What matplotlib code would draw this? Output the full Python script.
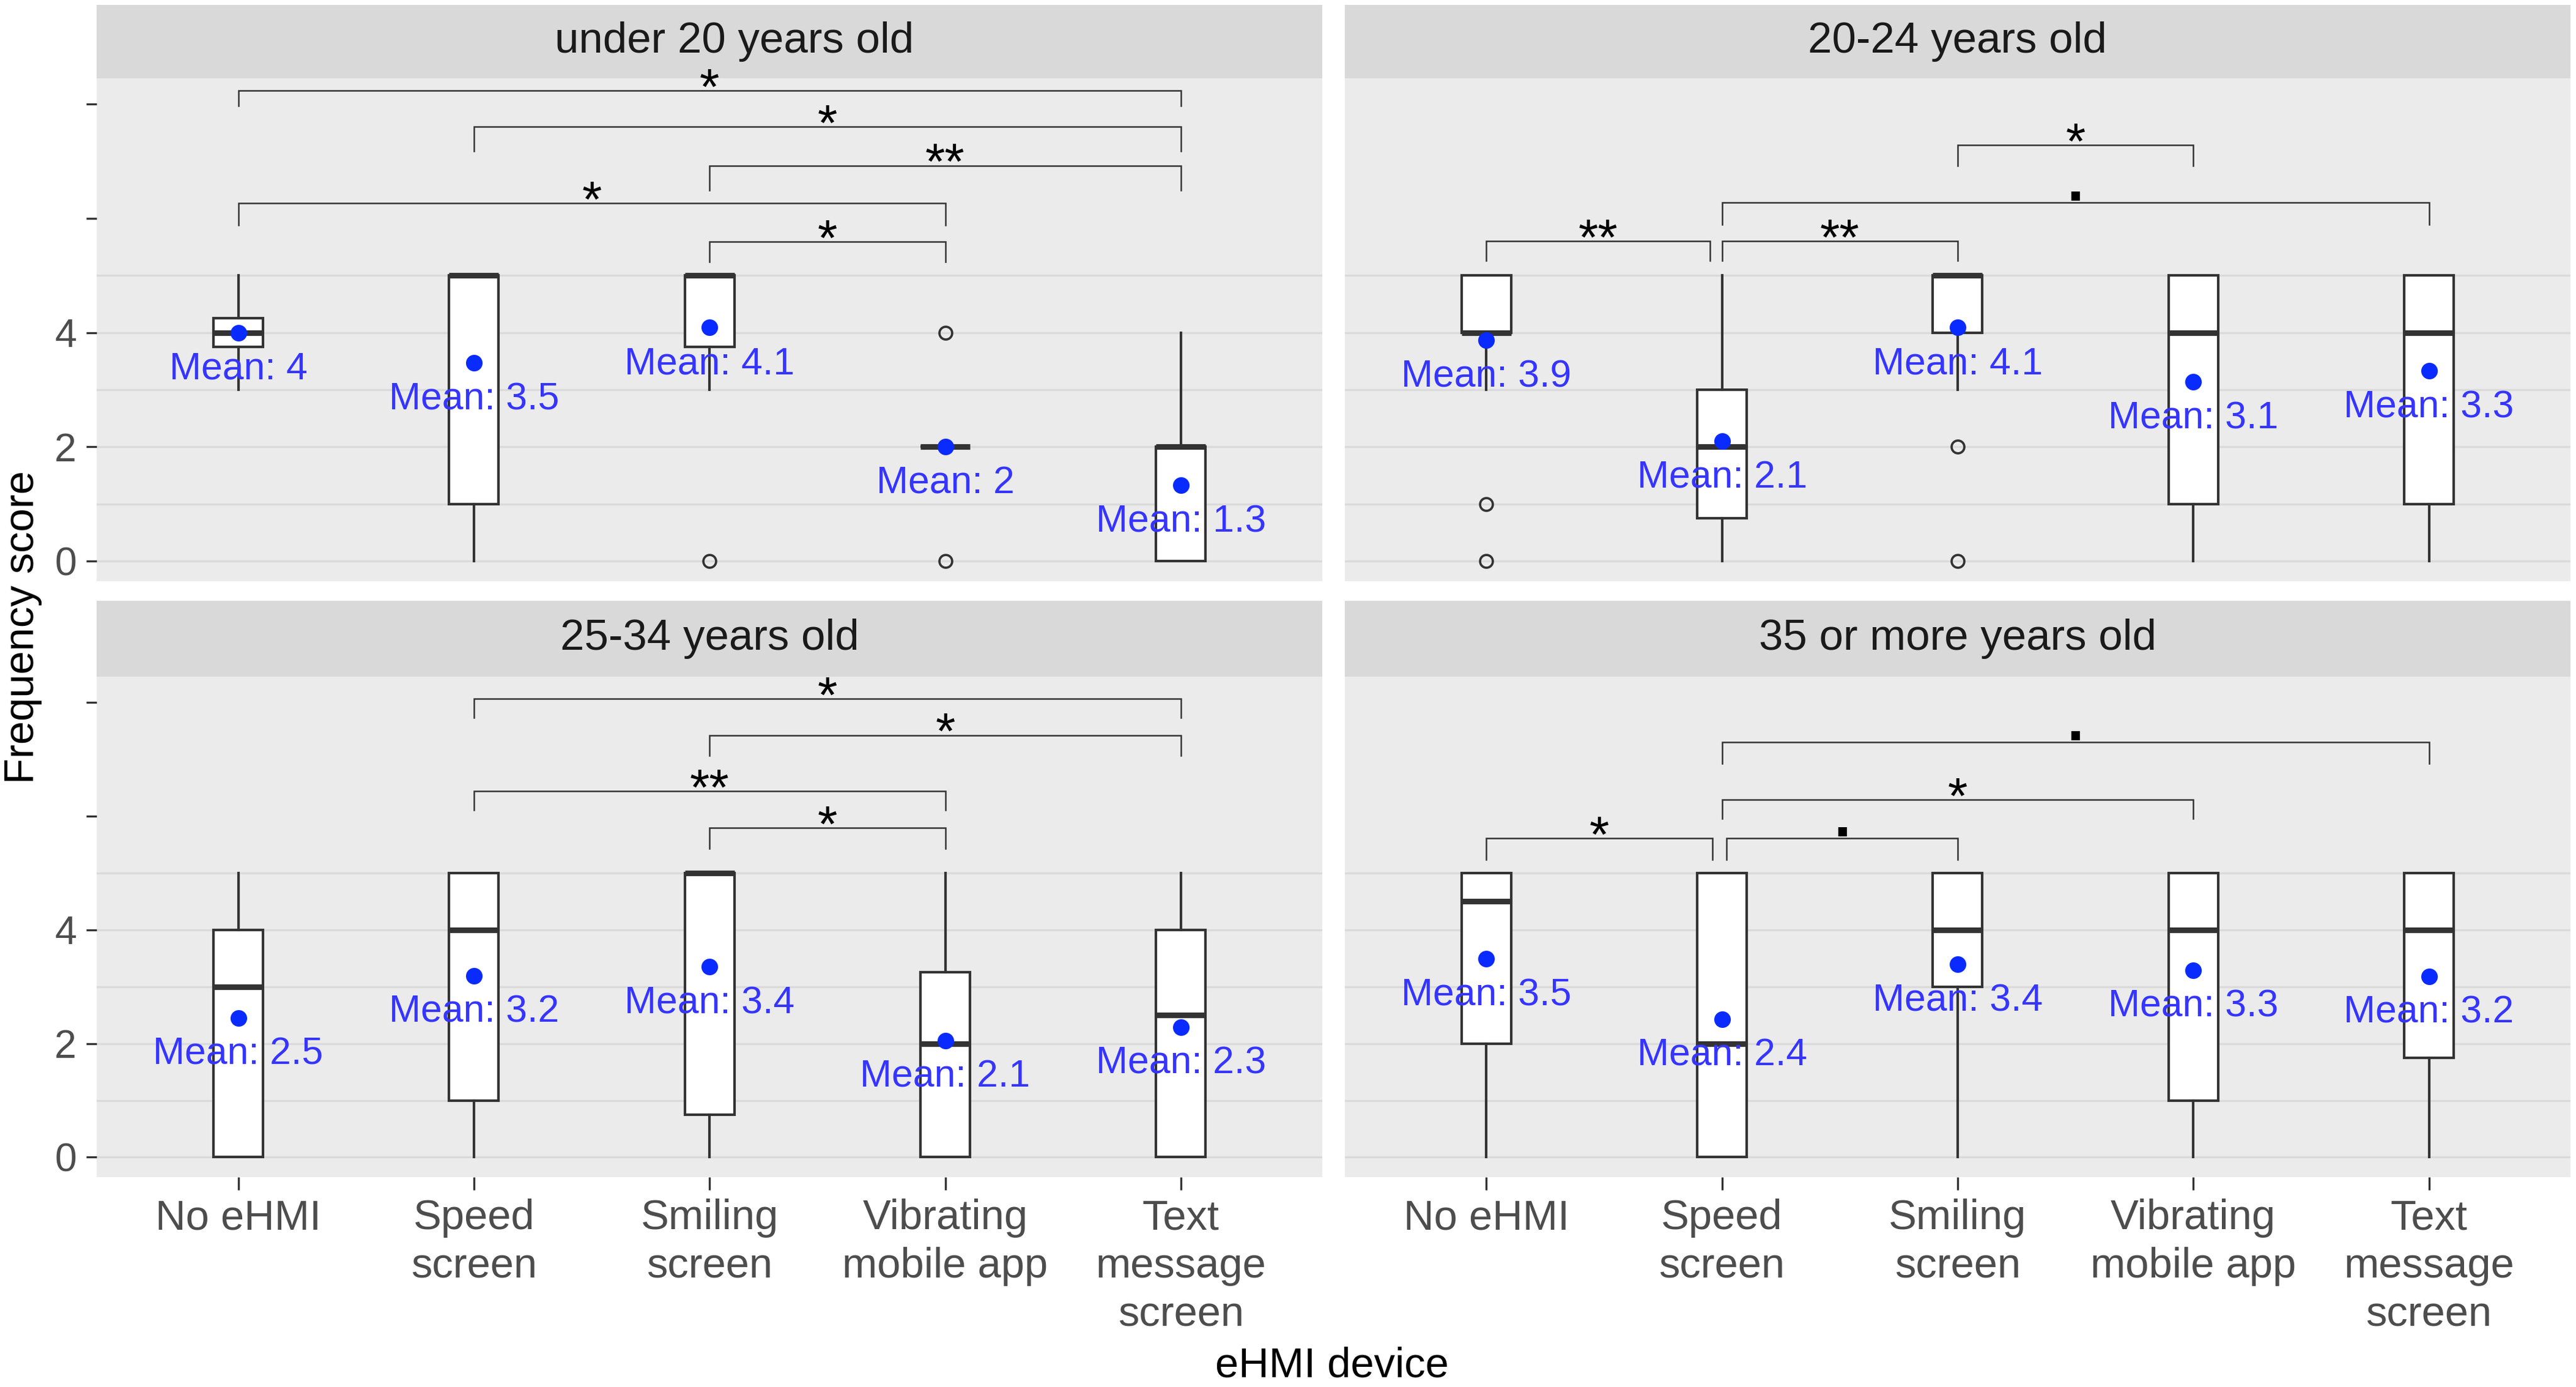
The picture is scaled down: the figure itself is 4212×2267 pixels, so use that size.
import numpy as np
import matplotlib
matplotlib.use("Agg")
import matplotlib.pyplot as plt

plt.rcParams['font.family'] = ['Liberation Sans', 'DejaVu Sans']

# categories
devices = ["No eHMI", "Speed\nscreen", "Smiling\nscreen", "Vibrating\nmobile app", "Text\nmessage\nscreen"]
panel_titles = ["under 20 years old", "20-24 years old", "25-34 years old", "35 or more years old"]

# under 20: box stats (whisker low, q1, median, q3, whisker high), outliers, means
u20_lo = [3, 0, 3, 2, 0]
u20_q1 = [3.75, 1, 3.75, 2, 0]
u20_med = [4, 5, 5, 2, 2]
u20_q3 = [4.25, 5, 5, 2, 2]
u20_hi = [5, 5, 5, 2, 4]
u20_out = [[], [], [0], [4, 0], []]
u20_mean = [4.0, 3.47, 4.09, 2.0, 1.33]
u20_lab = ["4", "3.5", "4.1", "2", "1.3"]

# 20-24
a20_lo = [3, 0, 3, 0, 0]
a20_q1 = [4, 0.75, 4, 1, 1]
a20_med = [4, 2, 5, 4, 4]
a20_q3 = [5, 3, 5, 5, 5]
a20_hi = [5, 5, 5, 5, 5]
a20_out = [[1, 0], [], [2, 0], [], []]
a20_mean = [3.87, 2.1, 4.09, 3.14, 3.33]
a20_lab = ["3.9", "2.1", "4.1", "3.1", "3.3"]

# 25-34
a25_lo = [0, 0, 0, 0, 0]
a25_q1 = [0, 1, 0.75, 0, 0]
a25_med = [3, 4, 5, 2, 2.5]
a25_q3 = [4, 5, 5, 3.25, 4]
a25_hi = [5, 5, 5, 5, 5]
a25_out = [[], [], [], [], []]
a25_mean = [2.45, 3.19, 3.35, 2.05, 2.29]
a25_lab = ["2.5", "3.2", "3.4", "2.1", "2.3"]

# 35 or more
a35_lo = [0, 0, 0, 0, 0]
a35_q1 = [2, 0, 3, 1, 1.75]
a35_med = [4.5, 2, 4, 4, 4]
a35_q3 = [5, 5, 5, 5, 5]
a35_hi = [5, 5, 5, 5, 5]
a35_out = [[], [], [], [], []]
a35_mean = [3.49, 2.43, 3.39, 3.29, 3.18]
a35_lab = ["3.5", "2.4", "3.4", "3.3", "3.2"]

# significance brackets: start, end, bar height, tip bottom, label
u20_bx1 = [1, 2, 3, 1, 3]
u20_bx2 = [5, 5, 5, 4, 4]
u20_by = [8.23, 7.60, 6.92, 6.26, 5.59]
u20_btip = [7.96, 7.17, 6.49, 5.88, 5.24]
u20_blab = ["*", "*", "**", "*", "*"]

a20_bx1 = [3, 2, 1, 2]
a20_bx2 = [4, 5, 1.95, 3]
a20_by = [7.28, 6.27, 5.60, 5.60]
a20_btip = [6.92, 5.89, 5.26, 5.26]
a20_blab = ["*", ".", "**", "**"]

a25_bx1 = [2, 3, 2, 3]
a25_bx2 = [5, 5, 4, 4]
a25_by = [8.06, 7.42, 6.44, 5.79]
a25_btip = [7.73, 7.06, 6.10, 5.43]
a25_blab = ["*", "*", "**", "*"]

a35_bx1 = [2, 2, 1, 2.02]
a35_bx2 = [5, 4, 1.96, 3]
a35_by = [7.30, 6.29, 5.61, 5.61]
a35_btip = [6.92, 5.95, 5.23, 5.23]
a35_blab = [".", "*", "*", "."]

panels = [
    (u20_lo, u20_q1, u20_med, u20_q3, u20_hi, u20_out, u20_mean, u20_lab,
     u20_bx1, u20_bx2, u20_by, u20_btip, u20_blab),
    (a20_lo, a20_q1, a20_med, a20_q3, a20_hi, a20_out, a20_mean, a20_lab,
     a20_bx1, a20_bx2, a20_by, a20_btip, a20_blab),
    (a25_lo, a25_q1, a25_med, a25_q3, a25_hi, a25_out, a25_mean, a25_lab,
     a25_bx1, a25_bx2, a25_by, a25_btip, a25_blab),
    (a35_lo, a35_q1, a35_med, a35_q3, a35_hi, a35_out, a35_mean, a35_lab,
     a35_bx1, a35_bx2, a35_by, a35_btip, a35_blab),
]

fig = plt.figure(figsize=(14.04, 7.5567), dpi=300)
fig.patch.set_facecolor('white')

col_x = [0.0376, 0.5221]
col_w = 0.4757
# (panel bottom, panel height, strip bottom, strip height)
row_y = [(0.5809, 0.3628, 0.9437, 0.0529), (0.1513, 0.3608, 0.5121, 0.0547)]
title_x = [0.52, 0.5, 0.5, 0.5]

pos = np.arange(1, 6)
for k, p in enumerate(panels):
    lo, q1, med, q3, hi, out, mean, lab, bx1, bx2, by, btip, blab = p
    r, c = divmod(k, 2)
    py, ph, sy, sh = row_y[r]

    # facet strip
    sax = fig.add_axes([col_x[c], sy, col_w, sh], zorder=0)
    sax.set_facecolor('#D9D9D9')
    sax.set_xticks([])
    sax.set_yticks([])
    for s in sax.spines.values():
        s.set_visible(False)
    sax.text(title_x[k], 0.5, panel_titles[k], ha='center', va='center',
             fontsize=17, color='#1A1A1A', transform=sax.transAxes)

    ax = fig.add_axes([col_x[c], py, col_w, ph], zorder=1)
    ax.set_facecolor('#EBEBEB')
    for s in ax.spines.values():
        s.set_visible(False)
    for gy in range(6):
        ax.axhline(gy, color='#DADADA', lw=0.8, zorder=0.5)

    stats = []
    for i in range(5):
        stats.append(dict(whislo=lo[i], q1=q1[i], med=med[i], q3=q3[i],
                          whishi=hi[i], fliers=out[i]))
    ax.bxp(stats, positions=pos, widths=0.21, patch_artist=True,
           showcaps=False, showfliers=True,
           boxprops=dict(facecolor='white', edgecolor='#333333', linewidth=1.0),
           medianprops=dict(color='#333333', linewidth=2.2, solid_capstyle='butt'),
           whiskerprops=dict(color='#333333', linewidth=1.0),
           flierprops=dict(marker='o', markerfacecolor='none',
                           markeredgecolor='#333333', markersize=5,
                           markeredgewidth=0.9))

    # means
    ax.plot(pos, mean, 'o', color='#0A2BFF', markersize=5.5, zorder=4)
    for i in range(5):
        ax.text(pos[i], mean[i] - 0.64, "Mean: " + lab[i], color='#3535FF',
                fontsize=15, ha='center', va='center', zorder=5)

    # significance brackets
    for j in range(len(by)):
        ax.plot([bx1[j], bx1[j], bx2[j], bx2[j]], [btip[j], by[j], by[j], btip[j]],
                color='#333333', lw=0.6, zorder=3, solid_joinstyle='miter')
        if blab[j] == ".":
            ax.text((bx1[j] + bx2[j]) / 2, by[j] + 0.035, blab[j], ha='center',
                    va='baseline', fontsize=24, fontweight='bold', color='black',
                    clip_on=False, zorder=6)
        else:
            ax.text((bx1[j] + bx2[j]) / 2, by[j] - 0.24, blab[j], ha='center',
                    va='baseline', fontsize=20, color='black',
                    clip_on=False, zorder=6)

    ax.set_xlim(0.4, 5.6)
    ax.set_ylim(-0.35, 8.45)

    if c == 0:
        ax.set_yticks([0, 2, 4, 6, 8])
        ax.set_yticklabels(['0', '2', '4', '', ''])
        ax.tick_params(axis='y', length=4.2, width=0.8, color='#333333',
                       labelsize=15.5, labelcolor='#4D4D4D', pad=3.8)
    else:
        ax.set_yticks([])
    if r == 1:
        ax.set_xticks(pos)
        ax.set_xticklabels(devices, linespacing=1.3)
        ax.tick_params(axis='x', length=5, width=0.8, color='#333333',
                       labelsize=16.5, labelcolor='#4D4D4D', pad=3.5)
    else:
        ax.set_xticks([])

fig.text(0.517, 0.0154, "eHMI device", ha='center', va='center', fontsize=16.5,
         color='black')
fig.text(0.0089, 0.548, "Frequency score", ha='center', va='center',
         rotation=90, fontsize=16.5, color='black')

fig.savefig("out.png", dpi=300, facecolor='white')
